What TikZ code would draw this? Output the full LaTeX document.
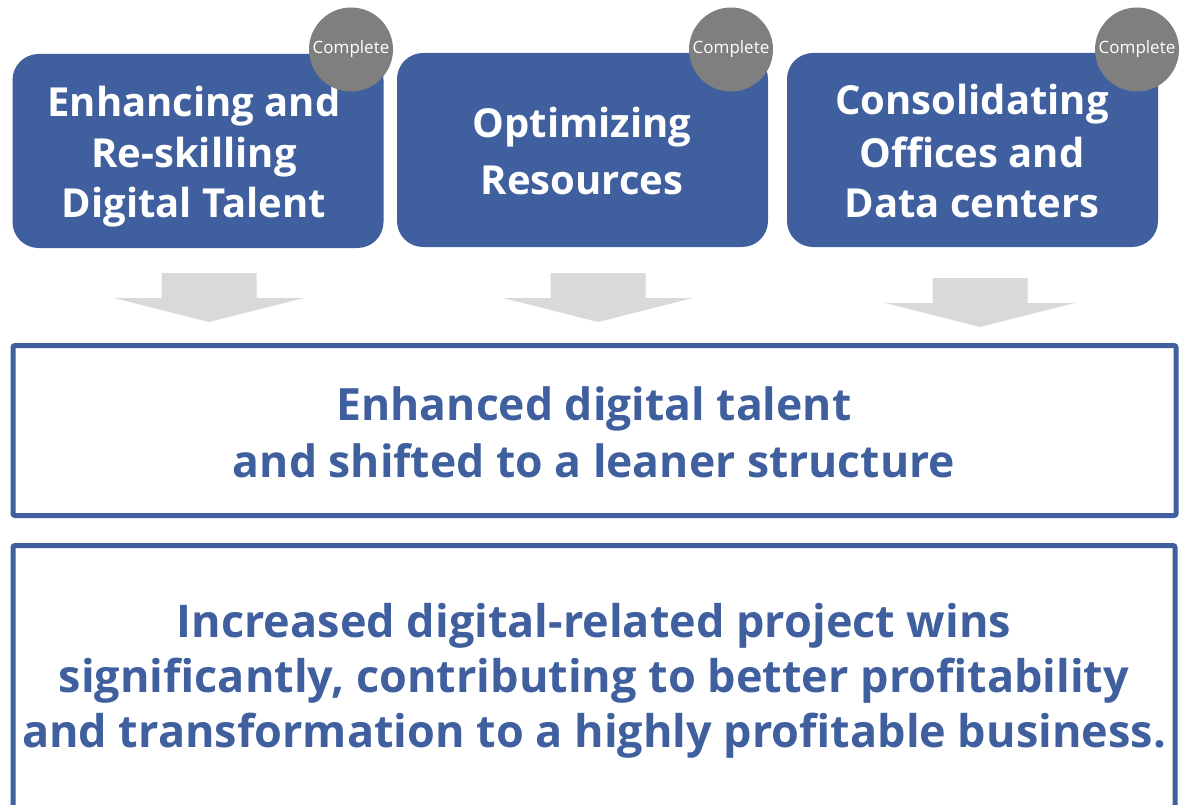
\documentclass[tikz,border=0pt]{standalone}
\usepackage{fontspec}
\setmainfont{Open Sans}
\usepackage{tikz}

\definecolor{boxblue}{HTML}{3F5F9E}
\definecolor{badgegray}{HTML}{7F7F7F}
\definecolor{arrowgray}{HTML}{D9D9D9}

\tikzset{
  stagebox/.style={fill=boxblue, rounded corners=26pt, minimum width=371pt, minimum height=194pt, inner sep=0pt},
  stagetext/.style={text=white, font=\bfseries\fontsize{40}{50.5}\selectfont, align=center, anchor=base, inner sep=0pt},
  badge/.style={circle, fill=badgegray, minimum size=84pt, inner sep=0pt, text=white, font=\fontsize{17}{20}\selectfont},
  outcomebox/.style={draw=boxblue, line width=5pt, rounded corners=2pt},
  outcometext/.style={text=boxblue, align=center, anchor=base, inner sep=0pt},
}

\begin{document}
\begin{tikzpicture}[x=1pt,y=-1pt]
  \useasboundingbox (0,0) rectangle (1180,805);
  % three stages
  \node[stagebox] (talent) at (198,151) {};
  \node[stagebox] (resources) at (582.5,150) {};
  \node[stagebox] (offices) at (972.5,150) {};
  \node[stagetext] (talentlbl) at (194,218) {Enhancing and\\Re-skilling\\Digital Talent};
  \node[stagetext] (resourceslbl) at (582,195) {Optimizing\\[7.5pt]Resources};
  \node[stagetext] (officeslbl) at (972,218) {Consolidating\\[2pt]Offices and\\Data centers};
  \node[badge] (done1) at (351,49.5) {Complete};
  \node[badge] (done2) at (731,49.5) {Complete};
  \node[badge] (done3) at (1137,49.5) {Complete};
  % block arrows
  \foreach \cx/\yt in {209/273, 598/273, 980/278}
    \fill[arrowgray] (\cx-47.5,\yt) -- (\cx+47.5,\yt) -- (\cx+47.5,\yt+25) -- (\cx+95,\yt+25)
      -- (\cx,\yt+49) -- (\cx-95,\yt+25) -- (\cx-47.5,\yt+25) -- cycle;
  % outcomes
  \draw[outcomebox] (13,345.5) rectangle (1176,515.5);
  \draw[outcomebox] (13,545.5) rectangle (1175,830);
  \node[outcometext, font=\bfseries\fontsize{44.5}{57}\selectfont] (leaner) at (594,477)
    {Enhanced digital talent\\and shifted to a leaner structure};
  \node[outcometext, font=\bfseries\fontsize{45}{55}\selectfont] (wins) at (594,747)
    {Increased digital-related project wins\\significantly, contributing to better profitability\\and transformation to a highly profitable business.};
\end{tikzpicture}
\end{document}
